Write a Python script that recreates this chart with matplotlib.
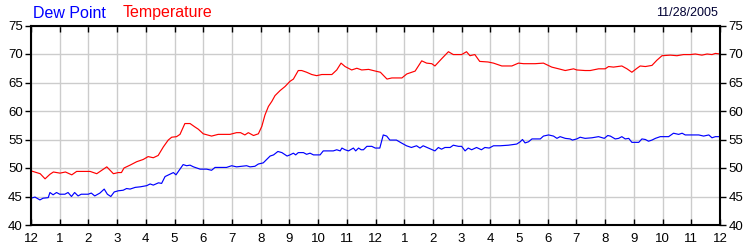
import matplotlib
matplotlib.use("Agg")
import matplotlib.pyplot as plt

# hours since midnight
temp_hours = [0.0, 0.32, 0.49, 0.66, 0.78, 1.01, 1.2, 1.42, 1.59, 2.06, 2.29, 2.64,
              2.87, 3.04, 3.15, 3.24, 3.45, 3.68, 3.91, 4.08, 4.26, 4.43, 4.61, 4.78,
              4.9, 5.07, 5.19, 5.36, 5.54, 5.71, 5.83, 6.0, 6.29, 6.52, 6.93, 7.16,
              7.3, 7.45, 7.57, 7.75, 7.92, 8.04, 8.15, 8.27, 8.39, 8.5, 8.68, 8.85,
              9.02, 9.14, 9.31, 9.43, 9.6, 9.78, 9.95, 10.13, 10.48, 10.65, 10.8, 10.94,
              11.17, 11.35, 11.52, 11.76, 12.0, 12.17, 12.4, 12.57, 12.92, 13.09, 13.38,
              13.61, 13.78, 13.96, 14.07, 14.31, 14.54, 14.71, 15.0, 15.17, 15.29, 15.46,
              15.63, 15.92, 16.11, 16.4, 16.75, 16.98, 17.16, 17.56, 17.85, 18.14, 18.38,
              18.61, 18.9, 19.01, 19.3, 19.48, 19.77, 20.0, 20.12, 20.29, 20.58, 20.76,
              20.93, 21.11, 21.22, 21.4, 21.63, 21.8, 21.98, 22.27, 22.5, 22.73, 22.97,
              23.14, 23.37, 23.55, 23.72, 23.84, 24.0]
temperature = [49.5, 49.0, 48.1, 48.9, 49.3, 49.1, 49.3, 48.8, 49.4, 49.4, 49.0, 50.2,
               49.0, 49.2, 49.2, 50.0, 50.5, 51.1, 51.5, 52.0, 51.8, 52.2, 53.7, 54.9,
               55.4, 55.5, 55.9, 57.8, 57.8, 57.2, 56.8, 56.0, 55.6, 55.9, 55.9, 56.2,
               56.2, 55.8, 56.2, 55.7, 56.0, 57.3, 59.3, 60.8, 61.7, 62.7, 63.6, 64.3,
               65.2, 65.6, 67.1, 67.1, 66.8, 66.4, 66.2, 66.4, 66.4, 67.2, 68.4, 67.8,
               67.2, 67.5, 67.2, 67.3, 67.0, 66.8, 65.6, 65.8, 65.8, 66.5, 67.0,
               68.8, 68.4, 68.3, 67.9, 69.2, 70.4, 69.9, 69.9, 70.4, 69.7, 69.9,
               68.7, 68.6, 68.4, 67.9, 67.9, 68.4, 68.3, 68.3, 68.4, 67.7, 67.4,
               67.1, 67.4, 67.2, 67.1, 67.1, 67.4, 67.4, 67.8, 67.7, 67.9, 67.4,
               66.8, 67.5, 67.9, 67.8, 68.0, 68.9, 69.7, 69.8, 69.7, 69.9, 69.9,
               70.0, 69.8, 70.0, 69.9, 70.1, 70.0]

dew_hours = [0.0, 0.14, 0.31, 0.42, 0.6, 0.66, 0.77, 0.89, 1.0, 1.18, 1.29, 1.41, 1.52,
             1.64, 1.75, 1.99, 2.1, 2.22, 2.4, 2.55, 2.66, 2.78, 2.9, 3.04, 3.21, 3.33,
             3.45, 3.63, 3.81, 4.03, 4.15, 4.26, 4.44, 4.55, 4.67, 4.84, 4.96, 5.05,
             5.3, 5.42, 5.54, 5.66, 5.89, 6.12, 6.29, 6.41, 6.81, 6.99, 7.16, 7.51,
             7.63, 7.8, 7.92, 8.09, 8.33, 8.45, 8.6, 8.74, 8.92, 9.02, 9.14, 9.22,
             9.31, 9.49, 9.6, 9.72, 9.84, 10.07, 10.18, 10.53, 10.65, 10.77, 10.83,
             10.94, 11.06, 11.23, 11.31, 11.41, 11.5, 11.58, 11.7, 11.87, 11.99, 12.15,
             12.27, 12.39, 12.5, 12.73, 12.9, 13.08, 13.25, 13.43, 13.55, 13.66, 13.84,
             14.07, 14.19, 14.3, 14.42, 14.6, 14.71, 14.89, 15.0, 15.12, 15.23, 15.35,
             15.52, 15.69, 15.81, 15.96, 16.11, 16.34, 16.63, 16.92, 17.04, 17.12,
             17.21, 17.33, 17.45, 17.74, 17.85, 18.03, 18.2, 18.32, 18.43, 18.61,
             18.78, 18.86, 19.01, 19.13, 19.3, 19.54, 19.77, 19.97, 20.09, 20.18,
             20.35, 20.47, 20.58, 20.7, 20.82, 20.93, 21.17, 21.28, 21.4, 21.51,
             21.63, 21.75, 21.92, 22.21, 22.38, 22.56, 22.68, 22.79, 23.26, 23.43,
             23.61, 23.72, 23.84, 24.0]
dew_point = [44.7, 44.9, 44.4, 44.7, 44.8, 45.7, 45.3, 45.7, 45.4, 45.4, 45.7, 45.0, 45.7,
             45.1, 45.4, 45.4, 45.6, 45.1, 45.6, 46.3, 45.4, 45.0, 45.8, 46.0, 46.1, 46.4,
             46.3, 46.6, 46.7, 46.9, 47.2, 47.0, 47.4, 47.3, 48.5, 48.9, 49.2, 48.8,
             50.6, 50.4, 50.5, 50.2, 49.8, 49.8, 49.6, 50.1, 50.1, 50.4, 50.2, 50.4,
             50.2, 50.3, 50.7, 50.9, 52.1, 52.3, 52.9, 52.7, 52.1, 52.3, 52.6, 52.3,
             52.7, 52.7, 52.4, 52.6, 52.3, 52.3, 53.0, 53.0, 53.2, 53.0, 53.5,
             53.2, 53.0, 53.5, 53.0, 53.5, 53.2, 53.2, 53.8, 53.8, 53.5, 53.5,
             55.8, 55.6, 54.9, 54.9, 54.4, 53.9, 53.6, 53.9, 53.5, 53.9, 53.5,
             53.0, 53.6, 53.3, 53.6, 53.6, 54.0, 53.8, 53.8, 53.0, 53.5, 53.2,
             53.6, 53.2, 53.6, 53.5, 53.9, 53.9, 54.0, 54.2, 54.6, 55.0,
             54.4, 54.6, 55.1, 55.1, 55.6, 55.8, 55.6, 55.2, 55.5, 55.2,
             55.1, 54.9, 55.1, 55.4, 55.2, 55.3, 55.5, 55.2, 55.7, 55.6,
             55.1, 55.2, 55.5, 55.1, 55.2, 54.5, 54.5, 55.1, 55.0, 54.7,
             54.9, 55.2, 55.5, 55.5, 56.1, 55.9, 56.1, 55.8, 55.8, 55.6,
             55.8, 55.3, 55.5, 55.5]

hour_ticks = list(range(0, 25))
hour_labels = ["12"] + [str(h) for h in range(1, 12)] + ["12"] + [str(h) for h in range(1, 12)] + ["12"]
y_ticks = [40, 45, 50, 55, 60, 65, 70, 75]
date_label = "11/28/2005"

plt.rcParams["font.family"] = ["Liberation Sans", "DejaVu Sans"]

fig = plt.figure(figsize=(7.5, 2.5), dpi=100)
ax = fig.add_axes([31 / 750, 25 / 250, 689 / 750, 199.5 / 250])

ax.plot(temp_hours, temperature, color="#ff0000", linewidth=0.85)
ax.plot(dew_hours, dew_point, color="#0000ff", linewidth=0.85)

ax.set_xlim(0, 24)
ax.set_ylim(40, 75)
ax.set_xticks(hour_ticks)
ax.set_xticklabels(hour_labels)
ax.set_yticks(y_ticks)
ax.grid(True, color="#cccccc", linewidth=1.0)
ax.set_axisbelow(True)

for s in ax.spines.values():
    s.set_color("black")
    s.set_linewidth(1.5)

ax.tick_params(axis="x", direction="in", top=True, bottom=True, length=4,
               labelsize=9.5, pad=6, width=1)
ax.tick_params(axis="y", direction="out", left=True, right=True, labelleft=True,
               labelright=True, length=4, labelsize=9.5, pad=2, width=1)

fig.text(33 / 750, 1 - 13 / 250, "Dew Point", color="#0000ff", fontsize=11.5,
         va="center", ha="left")
fig.text(123 / 750, 1 - 13 / 250, "Temperature", color="#ff0000", fontsize=11.5,
         va="center", ha="left")
fig.text(718 / 750, 1 - 13 / 250, date_label, color="#000033", fontsize=9,
         va="center", ha="right")

fig.savefig("out.png", dpi=100)
